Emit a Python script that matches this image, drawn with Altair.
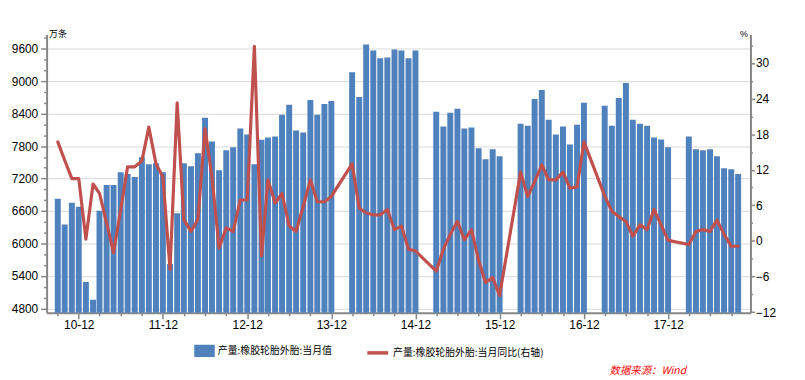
import altair as alt
import pandas as pd

# ---- data ----
months = [
    "2010-09", "2010-10", "2010-11", "2010-12",
    "2011-01", "2011-02", "2011-03", "2011-04", "2011-05", "2011-06",
    "2011-07", "2011-08", "2011-09", "2011-10", "2011-11", "2011-12",
    "2012-01", "2012-02", "2012-03", "2012-04", "2012-05", "2012-06",
    "2012-07", "2012-08", "2012-09", "2012-10", "2012-11", "2012-12",
    "2013-01", "2013-02", "2013-03", "2013-04", "2013-05", "2013-06",
    "2013-07", "2013-08", "2013-09", "2013-10", "2013-11", "2013-12",
    "2014-03", "2014-04", "2014-05", "2014-06", "2014-07", "2014-08",
    "2014-09", "2014-10", "2014-11", "2014-12",
    "2015-03", "2015-04", "2015-05", "2015-06", "2015-07", "2015-08",
    "2015-09", "2015-10", "2015-11", "2015-12",
    "2016-03", "2016-04", "2016-05", "2016-06", "2016-07", "2016-08",
    "2016-09", "2016-10", "2016-11", "2016-12",
    "2017-03", "2017-04", "2017-05", "2017-06", "2017-07", "2017-08",
    "2017-09", "2017-10", "2017-11", "2017-12",
    "2018-03", "2018-04", "2018-05", "2018-06", "2018-07", "2018-08",
    "2018-09", "2018-10",
]

production = [
    6825, 6350, 6752, 6679,
    5289, 4960, 6606, 7081, 7081, 7319,
    7283, 7228, 7594, 7466, 7484, 7319,
    5618, 6557, 7484, 7429, 7667, 8325,
    7886, 7356, 7722, 7777, 8124, 8014,
    7466, 7920, 7960, 7980, 8380, 8563,
    8087, 8051, 8654, 8380, 8581, 8636,
    9167, 8709, 9679, 9569, 9423, 9441,
    9587, 9569, 9423, 9569,
    8435, 8161, 8417, 8490, 8124, 8143,
    7759, 7557, 7740, 7612,
    8215, 8179, 8673, 8837, 8289, 8014,
    8161, 7831, 8197, 8600,
    8545, 8179, 8691, 8965, 8289, 8215,
    8179, 7960, 7923, 7777,
    7978, 7740, 7722, 7740, 7612, 7392,
    7374, 7283,
]

yoy = [
    16.7, 13.6, 10.5, 10.5,
    0.3, 9.6, 8.0, 3.0, -2.0, 5.3,
    12.5, 12.5, 13.5, 19.2, 13.0, 10.8,
    -4.8, 23.3, 3.6, 1.6, 3.6, 18.9,
    10.8, -1.2, 2.2, 1.6, 6.9, 6.9,
    32.8, -2.5, 10.3, 6.4, 8.0, 2.5,
    1.6, 5.8, 10.3, 6.6, 6.6, 7.5,
    13.0, 5.5, 4.7, 4.4, 4.4, 5.3,
    1.9, 2.5, -1.4, -1.7,
    -5.1, -1.4, 1.1, 3.3, 0.2, 1.9,
    -3.3, -7.0, -6.2, -9.2,
    11.6, 7.5, 10.0, 12.8, 10.3, 10.3,
    11.6, 8.9, 9.1, 16.7,
    7.6, 5.0, 4.1, 3.3, 0.8, 2.7,
    1.9, 5.3, 2.7, 0.1,
    -0.6, 1.6, 1.9, 1.6, 3.5, 1.1,
    -0.9, -0.9,
]

bar_name = "产量:橡胶轮胎外胎:当月值"
line_name = "产量:橡胶轮胎外胎:当月同比(右轴)"
source_text = ["数据来源：Wind"]

left_ticks = list(range(4800, 9801, 200))
right_ticks = list(range(-12, 34, 3))
x_tick_months = [(y, m) for y in range(2010, 2019) for m in (3, 6, 9, 12)
                 if (y, m) >= (2010, 9) and (y, m) <= (2018, 9)]

df = pd.DataFrame({
    "date": pd.to_datetime([m + "-01" for m in months]),
    "prod": production,
    "yoy": yoy,
})
df["bar_series"] = bar_name
df["line_series"] = line_name

CJK = "Noto Sans CJK SC"
LAB = "Liberation Sans"
AXC = "#868686"

x_enc = alt.X(
    "date:T",
    title=None,
    scale=alt.Scale(domain=[alt.DateTime(year=2010, month=8, date=5),
                            alt.DateTime(year=2018, month=11, date=2)]),
    axis=alt.Axis(
        values=[alt.DateTime(year=y, month=m, date=1) for y, m in x_tick_months],
        labelExpr="month(datum.value) == 11 ? timeFormat(datum.value, '%y-%m') : ''",
        tickSize={"condition": {"test": "month(datum.value) == 11", "value": 6}, "value": 3},
        labelPadding=1,
        labelFontSize=12,
        grid=False,
        labelOverlap=False,
    ),
)

bars = alt.Chart(df).mark_bar(size=6, clip=True).encode(
    x=x_enc,
    y=alt.Y(
        "prod:Q",
        title="万条",
        scale=alt.Scale(domain=[4718, 9862], nice=False, zero=False),
        axis=alt.Axis(
            orient="left",
            values=left_ticks,
            format="d",
            labelExpr="(datum.value - 4800) % 600 == 0 ? datum.label : ''",
            tickSize={"condition": {"test": "(datum.value - 4800) % 600 != 0", "value": 3}, "value": 6},
            grid=True,
            gridColor="#d9d9d9",
            gridWidth=1,
            gridOpacity={"condition": {"test": "(datum.value - 4800) % 600 != 0", "value": 0}, "value": 1},
            labelPadding=3,
            titleAngle=0,
            titleAlign="left",
            titleBaseline="bottom",
            titleX=2,
            titleY=4,
            titleFont=CJK,
            titleFontSize=9,
            titleFontWeight="normal",
            labelOverlap=False,
        ),
    ),
    color=alt.Color(
        "bar_series:N",
        scale=alt.Scale(range=["#4f81bd"]),
        legend=alt.Legend(
            title=None, orient="none", legendX=149, legendY=309,
            symbolType="M-1,-0.6H1V0.6H-1Z", symbolSize=430, symbolStrokeWidth=0,
            symbolOpacity=1, labelFont=CJK, labelFontSize=10, labelOffset=3,
            padding=0, labelLimit=300,
        ),
    ),
)

line = alt.Chart(df).mark_line(strokeWidth=3.2, strokeJoin="round", strokeCap="round").encode(
    x=x_enc,
    y=alt.Y(
        "yoy:Q",
        title="%",
        scale=alt.Scale(domain=[-12.12, 34.79], nice=False, zero=False),
        axis=alt.Axis(
            orient="right",
            values=right_ticks,
            labelExpr="datum.value % 6 == 0 ? datum.label : ''",
            tickSize={"condition": {"test": "datum.value % 6 != 0", "value": 2}, "value": 4},
            grid=False,
            labelPadding=1,
            titleAngle=0,
            titleAlign="right",
            titleBaseline="bottom",
            titleX=-3,
            titleY=4,
            titleFont=LAB,
            titleFontSize=9,
            titleFontWeight="normal",
            labelOverlap=False,
        ),
    ),
    stroke=alt.Stroke(
        "line_series:N",
        scale=alt.Scale(range=["#c0504d"]),
        legend=alt.Legend(
            title=None, orient="none", legendX=322, legendY=309,
            symbolType="stroke", symbolSize=441, symbolStrokeWidth=3.5,
            labelFont=CJK, labelFontSize=10, labelOffset=3, padding=0, labelLimit=300,
        ),
    ),
)

src = alt.Chart(pd.DataFrame({"t": source_text})).mark_text(
    align="right", baseline="middle", font=CJK, fontSize=10.5,
    fontStyle="italic", color="#ff0000",
).encode(text="t:N", x=alt.value(646), y=alt.value(340))

chart = (
    alt.layer(bars, line, src)
    .resolve_scale(y="independent", color="independent", stroke="independent")
    .properties(
        width=711, height=281,
        autosize=alt.AutoSizeParams(type="none"),
        padding={"left": 39, "top": 25, "right": 47, "bottom": 66},
        background="white",
    )
    .configure_view(strokeWidth=0)
    .configure_axis(
        labelFont=LAB, labelFontSize=12, labelColor="#000000",
        domainColor=AXC, domainWidth=2, tickColor=AXC, tickWidth=1.5,
    )
)

chart.save("out.html", embed_options={"renderer": "svg", "actions": False})
